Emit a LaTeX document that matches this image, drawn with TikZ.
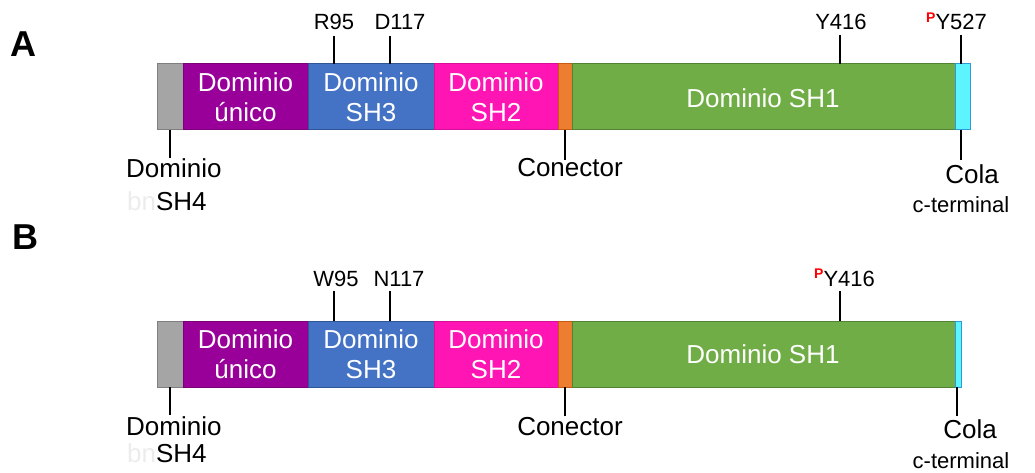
\documentclass[tikz,border=0pt]{standalone}
\usepackage{fontspec}
\setmainfont{Liberation Sans}
\definecolor{sgray}{HTML}{A5A5A5}\definecolor{sgrayD}{HTML}{7F7F7F}
\definecolor{spurple}{HTML}{990099}\definecolor{spurpleD}{HTML}{7A007A}
\definecolor{sblue}{HTML}{4472C4}\definecolor{sblueD}{HTML}{2F5597}
\definecolor{spink}{HTML}{FF14B4}\definecolor{spinkD}{HTML}{D81098}
\definecolor{sorange}{HTML}{ED7D31}\definecolor{sorangeD}{HTML}{C55A11}
\definecolor{sgreen}{HTML}{70AD47}\definecolor{sgreenD}{HTML}{548235}
\definecolor{scyan}{HTML}{5BF4FF}\definecolor{scyanD}{HTML}{2E9BD6}
\definecolor{faint}{HTML}{ECECEC}
\newcommand{\phos}{\textcolor{red}{\raisebox{7.5pt}{\fontsize{14}{14}\selectfont\bfseries P}}}
\tikzset{
  seg/.style={rectangle, inner sep=0pt, outer sep=0pt, line width=1pt,
              minimum height=66pt, anchor=north west},
  big/.style={font=\fontsize{26}{30}\selectfont, inner sep=0pt, anchor=base},
  small/.style={font=\fontsize{22}{26}\selectfont, inner sep=0pt, anchor=base},
  inner/.style={big, text=white},
  panel/.style={font=\fontsize{36}{40}\selectfont\bfseries, inner sep=0pt, anchor=base west},
  tick/.style={line width=2.8pt, black}
}
\begin{document}
\begin{tikzpicture}[x=1pt, y=-1pt]
\useasboundingbox (0,0) rectangle (1035,473);

% ---------- panel A ----------
\node[panel] (pA) at (10,57) {A};
\node[seg, fill=sgray,   draw=sgrayD,   minimum width=26pt]  (sh4A)  at (157,64) {};
\node[seg, fill=spurple, draw=spurpleD, minimum width=125pt] (uniA)  at (183,64) {};
\node[seg, fill=sblue,   draw=sblueD,   minimum width=126pt] (sh3A)  at (308,64) {};
\node[seg, fill=spink,   draw=spinkD,   minimum width=124pt] (sh2A)  at (434,64) {};
\node[seg, fill=sorange, draw=sorangeD, minimum width=14pt]  (conA)  at (558,64) {};
\node[seg, fill=sgreen,  draw=sgreenD,  minimum width=383pt] (sh1A)  at (572,64) {};
\node[seg, fill=scyan,   draw=scyanD,   minimum width=15pt]  (colA)  at (955,64) {};

\node[inner] (uniA1) at (245.5,92) {Dominio};
\node[inner] (uniA2) at (245.5,122) {único};
\node[inner] (sh3A1) at (371,92) {Dominio};
\node[inner] (sh3A2) at (371,122) {SH3};
\node[inner] (sh2A1) at (496,92) {Dominio};
\node[inner] (sh2A2) at (496,122) {SH2};
\node[inner] (sh1At) at (763,108) {Dominio SH1};

% residues above the bar
\node[small] (r95)  at (334,30) {R95};
\node[small] (d117) at (400,30) {D117};
\node[small] (y416A) at (841,30) {Y416};
\node[small, anchor=base west] (y527) at (926,30) {\phos Y527};
\coordinate (r95t)  at (334,36);
\coordinate (d117t) at (390,36);
\coordinate (y416At) at (840,35);
\coordinate (y527t) at (961,35);
\draw[tick] (r95t)  -- (r95t  |- sh3A.north);
\draw[tick] (d117t) -- (d117t |- sh3A.north);
\draw[tick] (y416At) -- (y416At |- sh1A.north);
\draw[tick] (y527t) -- (y527t |- colA.north);

% labels below the bar
\node[big, anchor=base west] (sh4A1) at (126,178) {Dominio};
\node[big, anchor=base west] (sh4A2) at (127,210) {\textcolor{faint}{bn}SH4};
\node[big] (conAl) at (570,177) {Conector};
\node[big] (colA1) at (972,183) {Cola};
\node[small] (colA2) at (961,212) {c-terminal};
\coordinate (sh4Ab) at (170,158);
\coordinate (conAb) at (565,160);
\coordinate (colAb) at (961,160);
\draw[tick] (sh4Ab) -- (sh4Ab |- sh4A.south);
\draw[tick] (conAb) -- (conAb |- conA.south);
\draw[tick] (colAb) -- (colAb |- colA.south);

% ---------- panel B ----------
\node[panel] (pB) at (12,249) {B};
\node[seg, fill=sgray,   draw=sgrayD,   minimum width=26pt]  (sh4B)  at (157,321) {};
\node[seg, fill=spurple, draw=spurpleD, minimum width=125pt] (uniB)  at (183,321) {};
\node[seg, fill=sblue,   draw=sblueD,   minimum width=126pt] (sh3B)  at (308,321) {};
\node[seg, fill=spink,   draw=spinkD,   minimum width=124pt] (sh2B)  at (434,321) {};
\node[seg, fill=sorange, draw=sorangeD, minimum width=14pt]  (conB)  at (558,321) {};
\node[seg, fill=sgreen,  draw=sgreenD,  minimum width=383pt] (sh1B)  at (572,321) {};
\node[seg, fill=scyan,   draw=scyanD,   minimum width=6pt]   (colB)  at (955,321) {};

\node[inner] (uniB1) at (245.5,348) {Dominio};
\node[inner] (uniB2) at (245.5,378) {único};
\node[inner] (sh3B1) at (371,348) {Dominio};
\node[inner] (sh3B2) at (371,378) {SH3};
\node[inner] (sh2B1) at (496,348) {Dominio};
\node[inner] (sh2B2) at (496,378) {SH2};
\node[inner] (sh1Bt) at (763,363) {Dominio SH1};

\node[small] (w95)  at (336,286) {W95};
\node[small] (n117) at (399,286) {N117};
\node[small, anchor=base west] (y416B) at (814,286) {\phos Y416};
\coordinate (w95t)  at (334,291);
\coordinate (n117t) at (390,291);
\coordinate (y416Bt) at (840,291);
\draw[tick] (w95t)  -- (w95t  |- sh3B.north);
\draw[tick] (n117t) -- (n117t |- sh3B.north);
\draw[tick] (y416Bt) -- (y416Bt |- sh1B.north);

\node[big, anchor=base west] (sh4B1) at (126,435) {Dominio};
\node[big, anchor=base west] (sh4B2) at (127,462) {\textcolor{faint}{bn}SH4};
\node[big] (conBl) at (570,435) {Conector};
\node[big] (colB1) at (970,438) {Cola};
\node[small] (colB2) at (961,468) {c-terminal};
\coordinate (sh4Bb) at (170,415);
\coordinate (conBb) at (565,416);
\coordinate (colBb) at (957,416);
\draw[tick] (sh4Bb) -- (sh4Bb |- sh4B.south);
\draw[tick] (conBb) -- (conBb |- conB.south);
\draw[tick] (colBb) -- (colBb |- colB.south);
\end{tikzpicture}
\end{document}
